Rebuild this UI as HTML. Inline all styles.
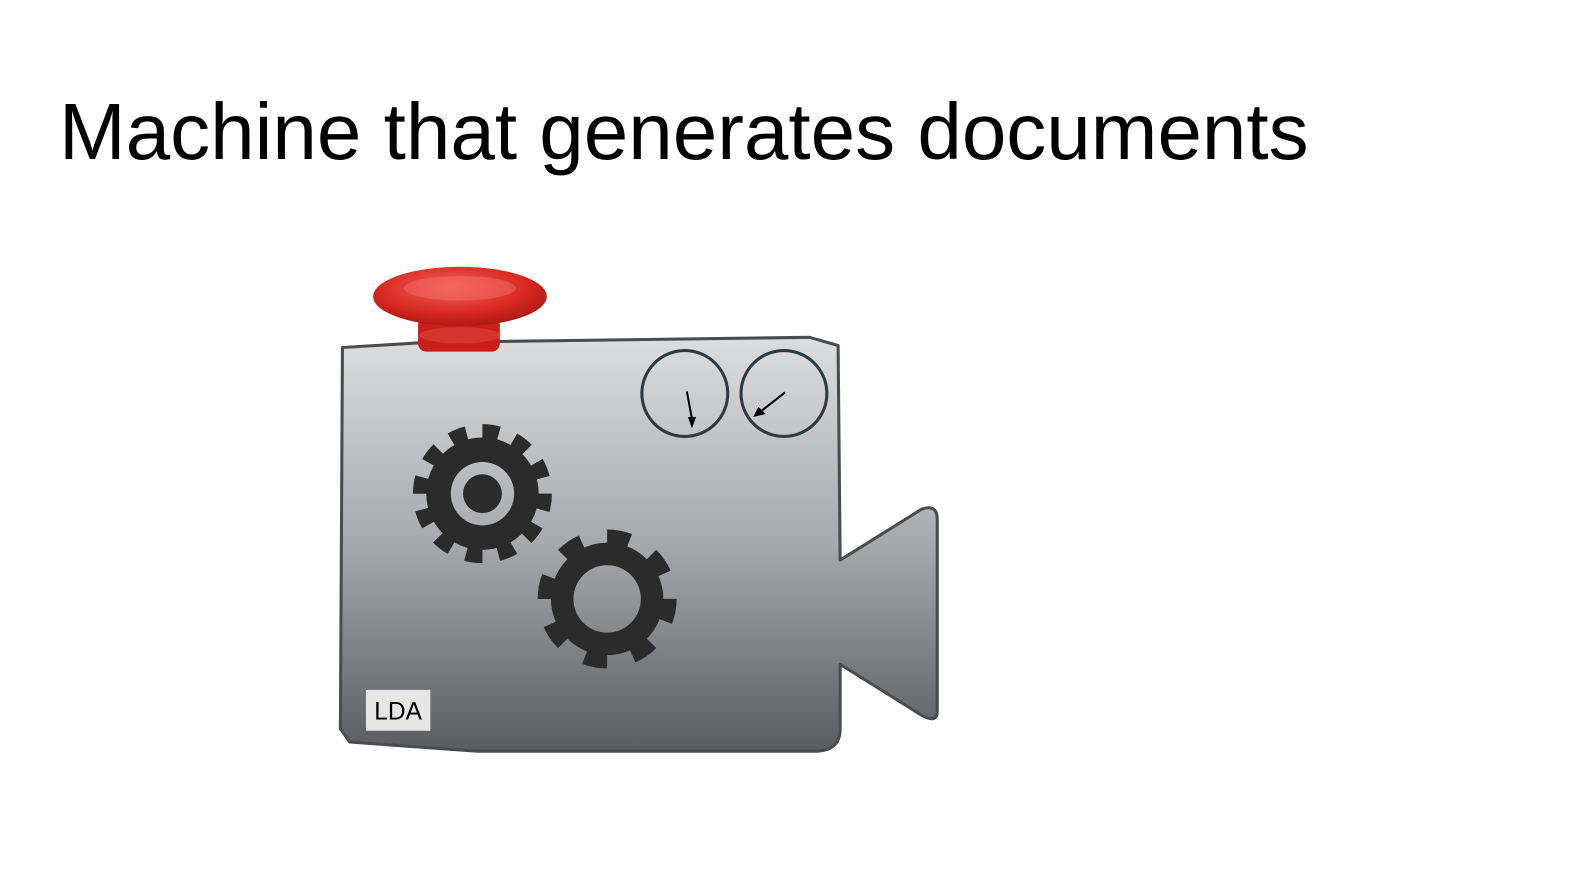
<!DOCTYPE html>
<html><head><meta charset="utf-8"><style>
html,body{margin:0;padding:0;background:#fff;width:1596px;height:882px;overflow:hidden}
.t{position:absolute;left:59px;top:86px;font-family:"Liberation Sans",sans-serif;font-size:80px;color:#000;white-space:nowrap}
svg{position:absolute;left:0;top:0}
</style></head><body>
<div class="t">Machine that generates documents</div>
<svg width="1596" height="882" viewBox="0 0 1596 882">
<defs>
<linearGradient id="g2" gradientUnits="userSpaceOnUse" x1="0" y1="333" x2="0" y2="737">
<stop offset="0" stop-color="#dcdddf"/><stop offset="0.5" stop-color="#a6a8ab"/><stop offset="1" stop-color="#5a5c61"/>
</linearGradient>
<radialGradient id="r" cx="0.45" cy="0.35" r="0.7">
<stop offset="0" stop-color="#f4615a"/><stop offset="0.6" stop-color="#d82a22"/><stop offset="1" stop-color="#a5150f"/>
</radialGradient>
</defs>
<g transform="translate(-3,-2) scale(1.022)">
<path d="M338 342 L420 337 L795 332 L823 340 L825 550 L905 500 Q920 495 920 510 L920 698 Q920 710 905 702 L825 652 L825 715 Q825 737 800 737 L470 737 L345 728 L336 715 Z" fill="url(#g2)" stroke="#4a4c50" stroke-width="3" stroke-linejoin="round"/>
<rect x="412" y="312" width="80" height="34" rx="8" fill="#c81f18"/>
<ellipse cx="453" cy="330" rx="40" ry="8" fill="#e4473f" opacity="0.5"/>
<ellipse cx="453" cy="292" rx="85" ry="29" fill="url(#r)"/>
<ellipse cx="453" cy="284" rx="55" ry="12" fill="#f26e67" opacity="0.5"/>
<circle cx="673" cy="387" r="42" fill="none" stroke="#2e3940" stroke-width="3"/>
<circle cx="770" cy="387" r="42" fill="none" stroke="#2e3940" stroke-width="3"/>
<line x1="675" y1="385" x2="680" y2="412" stroke="#000" stroke-width="2"/>
<polygon points="676,410 684,410 680,421" fill="#000"/>
<line x1="771" y1="386" x2="748" y2="404" stroke="#000" stroke-width="2"/>
<polygon points="745,400 752,407 740,410" fill="#000"/>
<circle cx="475" cy="485" r="55" fill="#2b2b2c"/>
<circle cx="475" cy="485" r="60" fill="none" stroke="#2b2b2c" stroke-width="16" stroke-dasharray="16 15.4"/>
<circle cx="475" cy="485" r="31" fill="url(#g2)"/>
<circle cx="475" cy="485" r="19" fill="#2b2b2c"/>
<circle cx="597" cy="588" r="55" fill="#2b2b2c"/>
<circle cx="597" cy="588" r="60" fill="none" stroke="#2b2b2c" stroke-width="16" stroke-dasharray="22 25.1"/>
<circle cx="597" cy="588" r="33" fill="url(#g2)"/>
<rect x="361" y="677" width="63" height="40" fill="#e6e6e6"/>
<text x="392.5" y="706" font-family="Liberation Sans,sans-serif" font-size="24" text-anchor="middle" fill="#000">LDA</text>
</g>
</svg>
</body></html>
